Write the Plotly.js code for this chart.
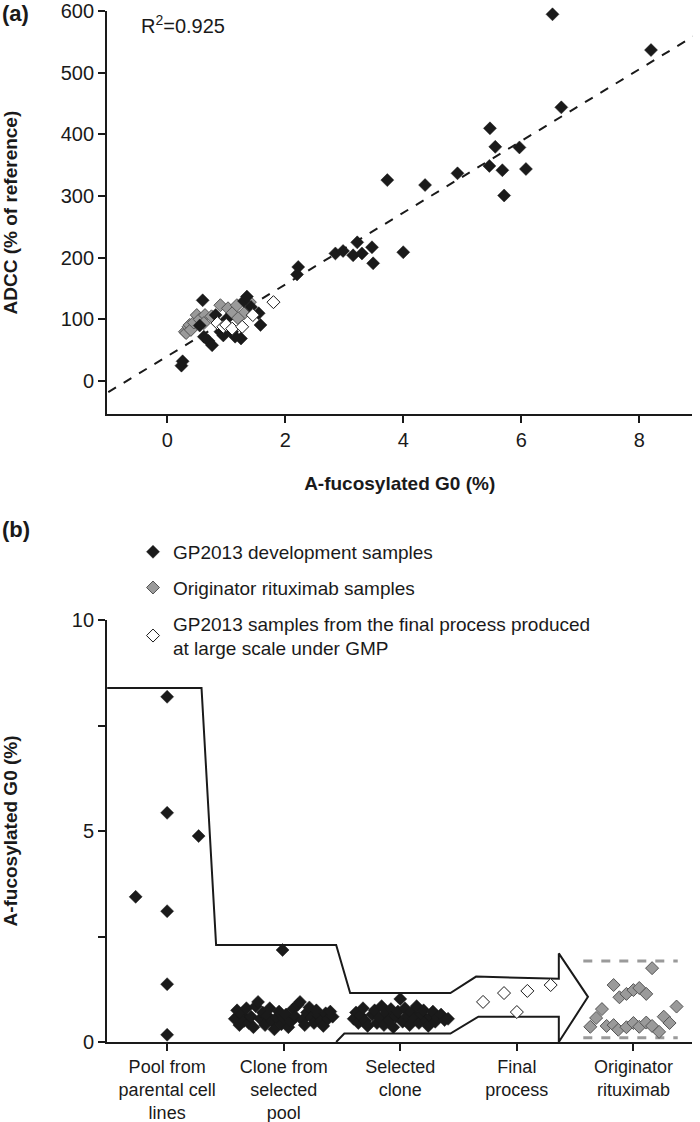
<!DOCTYPE html>
<html>
<head>
<meta charset="utf-8">
<script src="https://cdn.plot.ly/plotly-3.0.1.min.js"></script>
<style>html,body{margin:0;padding:0;background:#fff;}#chart{width:700px;height:1122px;}</style>
</head>
<body>
<div id="chart"></div>
<script>
// ---------- Panel (a): ADCC vs a-fucosylated G0 ----------
const aDevX = [0.24,0.26,0.55,0.60,0.62,0.70,0.76,0.82,0.90,0.95,1.00,1.10,1.15,1.25,1.30,1.35,1.42,1.55,1.58,2.22,2.20,2.85,2.98,3.15,3.22,3.30,3.47,3.49,4.00,3.73,4.37,4.92,5.46,5.47,5.56,5.68,5.71,5.97,6.08,6.53,6.68,8.20];
const aDevY = [25,32,90,131,72,65,58,107,80,74,100,80,72,69,130,137,120,110,91,185,173,207,211,204,225,207,217,191,209,326,318,337,349,410,380,342,301,379,344,595,444,537];
const aOrigX = [0.30,0.32,0.36,0.38,0.40,0.45,0.50,0.55,0.64,0.62,0.75,0.90,1.03,1.10,1.18,1.30,1.40,1.20];
const aOrigY = [80,78,88,91,83,95,107,100,107,94,105,123,118,110,123,110,128,102];
const aFinalX = [0.85,0.95,1.00,1.10,1.27,1.45,1.80];
const aFinalY = [94,88,91,85,88,107,128];
const fitX = [-1, 9];
const fitY = [-18, 564];
const r2Label = 'R<sup>2</sup>=0.925';

// ---------- Panel (b): a-fucosylated G0 by process stage ----------
const stageLabels = ['Pool from<br>parental cell<br>lines','Clone from<br>selected<br>pool','Selected<br>clone','Final<br>process','Originator<br>rituximab'];
const stagePos = [1,2,3,4,5];
const poolX = [1.00,1.00,1.27,0.73,1.00,1.00,1.00];
const poolY = [8.18,5.43,4.88,3.44,3.10,1.37,0.17];
const cloneX = [1.58,1.60,1.62,1.64,1.66,1.68,1.70,1.72,1.74,1.76,1.78,1.80,1.82,1.84,1.86,1.88,1.90,1.92,1.94,1.96,1.98,2.00,2.02,2.04,2.06,2.08,2.10,2.12,2.14,2.16,2.18,2.20,2.22,2.24,2.26,2.28,2.30,2.32,2.34,2.36,2.38,2.40,2.42,1.99];
const cloneY = [0.55,0.75,0.40,0.65,0.50,0.80,0.45,0.60,0.35,0.85,0.95,0.55,0.70,0.40,0.62,0.80,0.50,0.30,0.58,0.72,0.42,0.55,0.65,0.35,0.48,0.78,0.60,0.88,0.95,0.52,0.40,0.70,0.82,0.58,0.45,0.75,0.62,0.50,0.38,0.68,0.55,0.72,0.60,2.18];
const selX = [2.60,2.62,2.64,2.66,2.68,2.70,2.72,2.76,2.78,2.80,2.82,2.84,2.86,2.88,2.90,2.92,2.94,2.96,2.98,3.00,3.02,3.04,3.06,3.08,3.10,3.12,3.14,3.16,3.18,3.20,3.22,3.24,3.26,3.28,3.30,3.32,3.35,3.38,3.41];
const selY = [0.55,0.70,0.45,0.62,0.80,0.50,0.38,0.65,0.75,0.45,0.58,0.85,0.40,0.68,0.52,0.78,0.35,0.60,0.72,1.02,0.48,0.80,0.62,0.40,0.70,0.55,0.85,0.45,0.65,0.75,0.50,0.38,0.60,0.72,0.48,0.58,0.65,0.52,0.55];
const finalX = [3.71,3.89,4.00,4.09,4.29];
const finalY = [0.95,1.16,0.71,1.21,1.35];
const origX = [5.16,4.83,4.88,4.94,5.00,5.05,5.11,5.37,4.73,4.68,4.63,4.77,4.83,4.87,4.94,5.00,5.05,5.11,5.16,5.22,5.26,5.31];
const origY = [1.75,1.35,1.06,1.14,1.23,1.28,1.14,0.84,0.78,0.57,0.36,0.38,0.40,0.29,0.35,0.45,0.36,0.46,0.38,0.24,0.60,0.45];
// process outline (arrow-shaped band) vertices
const bandX = [0.485,1.295,1.42,2.45,2.57,3.43,3.65,4.36,4.36,4.61,4.36,4.36,3.67,3.43,2.52,2.45];
const bandY = [8.39,8.39,2.30,2.30,1.16,1.16,1.55,1.50,2.10,1.07,0.00,0.60,0.60,0.20,0.20,0.00];
// originator range (dashed lines)
const rangeX = [4.57,5.38];
const rangeHigh = [1.92,1.92];
const rangeLow = [0.10,0.10];

const legendNames = ['GP2013 development samples','Originator rituximab samples','GP2013 samples from the final process produced<br>at large scale under GMP'];

const FONT = 'Liberation Sans, Arial, sans-serif';
const INK = '#1a1a1a';
const GRAY = '#9a9a9a';

const mBlack = {symbol:'diamond', size:10, color:INK, line:{color:INK, width:0.5}};
const mGray = {symbol:'diamond', size:10, color:GRAY, line:{color:'#555', width:1}};
const mWhite = {symbol:'diamond', size:10, color:'#ffffff', line:{color:INK, width:1}};

const traces = [
  {x:fitX, y:fitY, mode:'lines', line:{color:INK, width:2, dash:'dash'}, xaxis:'x', yaxis:'y', showlegend:false, hoverinfo:'skip'},
  {x:aOrigX, y:aOrigY, mode:'markers', marker:mGray, xaxis:'x', yaxis:'y', showlegend:false, cliponaxis:false},
  {x:aDevX, y:aDevY, mode:'markers', marker:mBlack, xaxis:'x', yaxis:'y', showlegend:false, cliponaxis:false},
  {x:aFinalX, y:aFinalY, mode:'markers', marker:mWhite, xaxis:'x', yaxis:'y', showlegend:false, cliponaxis:false},
  {x:bandX, y:bandY, mode:'lines', line:{color:INK, width:2}, xaxis:'x2', yaxis:'y2', showlegend:false, hoverinfo:'skip'},
  {x:rangeX, y:rangeHigh, mode:'lines', line:{color:GRAY, width:3, dash:'dash'}, xaxis:'x2', yaxis:'y2', showlegend:false},
  {x:rangeX, y:rangeLow, mode:'lines', line:{color:GRAY, width:3, dash:'dash'}, xaxis:'x2', yaxis:'y2', showlegend:false},
  {x:poolX.concat(cloneX, selX), y:poolY.concat(cloneY, selY), mode:'markers', marker:mBlack, xaxis:'x2', yaxis:'y2', name:legendNames[0], legendgroup:'g1', cliponaxis:false},
  {x:origX, y:origY, mode:'markers', marker:mGray, xaxis:'x2', yaxis:'y2', name:legendNames[1], legendgroup:'g2', cliponaxis:false},
  {x:finalX, y:finalY, mode:'markers', marker:mWhite, xaxis:'x2', yaxis:'y2', name:legendNames[2], legendgroup:'g3', cliponaxis:false}
];

const axBase = {
  showline:true, linecolor:INK, linewidth:2, ticks:'outside', ticklen:7, tickwidth:2, tickcolor:INK,
  showgrid:false, zeroline:false, tickfont:{family:FONT, size:20, color:INK}, automargin:false, fixedrange:true
};
const titleFont = {family:FONT, size:19, color:INK};

const layout = {
  width:700, height:1122,
  margin:{l:0, r:0, t:0, b:0},
  paper_bgcolor:'#fff', plot_bgcolor:'#fff',
  font:{family:FONT, color:INK},
  showlegend:true,
  legend:{x:0.19, y:0.525, xanchor:'left', yanchor:'top', font:{family:FONT, size:19, color:INK}, tracegroupgap:8, bgcolor:'rgba(0,0,0,0)'},
  xaxis:Object.assign({}, axBase, {domain:[0.153,0.989], range:[-1.02,8.9], tickvals:[0,2,4,6,8], anchor:'y',
    title:{text:'<b>A-fucosylated G0 (%)</b>', font:titleFont, standoff:27}}),
  yaxis:Object.assign({}, axBase, {domain:[0.631,0.990], range:[-53.5,600], tickvals:[0,100,200,300,400,500,600], anchor:'x',
    title:{text:'<b>ADCC (% of reference)</b>', font:titleFont, standoff:38}}),
  xaxis2:Object.assign({}, axBase, {domain:[0.153,0.989], range:[0.485,5.505], tickvals:stagePos, ticktext:stageLabels, anchor:'y2',
    tickfont:{family:FONT, size:18, color:INK}}),
  yaxis2:Object.assign({}, axBase, {domain:[0.0713,0.4474], range:[0,10], tickvals:[0,5,10], anchor:'x2',
    minor:{tick0:0, dtick:2.5, ticks:'outside', ticklen:7, tickwidth:2, tickcolor:INK, showgrid:false},
    title:{text:'<b>A-fucosylated G0 (%)</b>', font:titleFont, standoff:52}}),
  annotations:[
    {text:'<b>(a)</b>', xref:'paper', yref:'paper', x:0, y:0.988, xanchor:'left', yanchor:'middle', showarrow:false, font:{family:FONT, size:22, color:INK}},
    {text:'<b>(b)</b>', xref:'paper', yref:'paper', x:0, y:0.528, xanchor:'left', yanchor:'middle', showarrow:false, font:{family:FONT, size:22, color:INK}},
    {text:r2Label, xref:'paper', yref:'paper', x:0.199, y:0.978, xanchor:'left', yanchor:'middle', showarrow:false, font:{family:FONT, size:20, color:INK}}
  ]
};

Plotly.newPlot('chart', traces, layout, {staticPlot:true, displayModeBar:false});
</script>
</body>
</html>
